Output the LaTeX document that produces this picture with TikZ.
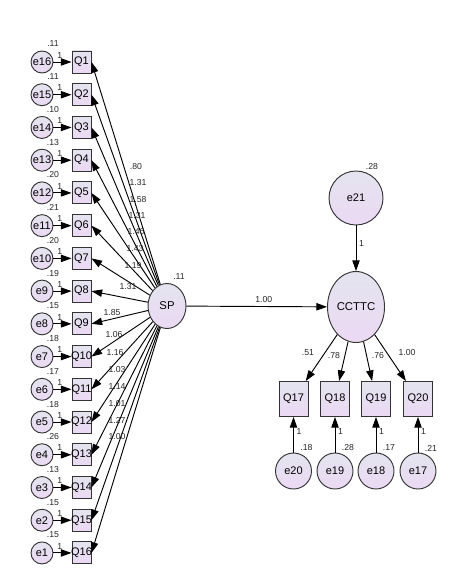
\documentclass[tikz,border=0pt]{standalone}
\usepackage{fontspec}
\setmainfont{Liberation Sans}
\usetikzlibrary{shapes.geometric,arrows.meta}
\definecolor{lavtop}{RGB}{228,228,239}
\definecolor{lavbot}{RGB}{235,217,243}
\tikzset{
  err/.style={circle,draw=black!80,top color=lavtop,bottom color=lavbot,inner sep=0pt,minimum size=16.5pt,font=\fontsize{8.25}{9}\selectfont},
  obs/.style={rectangle,draw=black!80,top color=lavtop,bottom color=lavbot,inner sep=0pt,minimum width=14.25pt,minimum height=16.5pt,font=\fontsize{8.25}{9}\selectfont},
  lat/.style={ellipse,draw=black!80,top color=lavtop,bottom color=lavbot,inner sep=0pt,font=\fontsize{8.5}{10}\selectfont},
  num/.style={inner sep=0pt,font=\fontsize{6.5}{7}\selectfont,text=black!85},
}
\begin{document}
\begin{tikzpicture}[x=0.75pt,y=-0.75pt,>={Triangle[length=8pt,width=5.5pt]},line width=0.7pt]
\useasboundingbox (0,0) rectangle (472,577);
% latent variables
\node[lat,minimum width=28.5pt,minimum height=33.75pt] (SP) at (167,306) {SP};
\node[num] (v22) at (179,277) {.11};
\node[lat,minimum width=42.75pt,minimum height=53.25pt] (CCTTC) at (356,307) {CCTTC};
\node[err,minimum size=40.5pt] (e21) at (356,198) {e21};
\node[num] (v21) at (372,167) {.28};
\draw[->] (e21) -- (CCTTC) node[num,pos=0.4,right=2pt] (w21) {1};
\draw[->] (SP) -- (CCTTC) node[num,pos=0.55,above=2.5pt] (b1) {1.00};
% left items Q1..Q16
\foreach \i/\v/\l/\lx/\ly in {1/.11/.80/136/167, 2/.11/1.31/138/183, 3/.10/1.58/138/200, 4/.13/1.31/137/216,
  5/.20/1.46/136/232, 6/.21/1.43/135/249, 7/.20/1.19/133/266, 8/.19/1.31/128/287,
  9/.15/1.85/112/313, 10/.18/1.06/114/335, 11/.17/1.16/115/353, 12/.18/1.03/117/370,
  13/.26/1.14/117/387, 14/.13/1.01/117/404, 15/.15/1.27/117/420, 16/.15/1.00/117/437}{
  \pgfmathsetmacro\y{62+(\i-1)*32.73}
  \pgfmathtruncatemacro\e{17-\i}
  \node[obs] (Q\i) at (81.5,\y) {\makebox[0pt]{Q\i}};
  \node[err] (e\e) at (42,\y) {e\e};
  \node[num] (v\e) at (53,\y-18) {\v};
  \draw[->] (e\e) -- (Q\i) node[num,pos=0.35,above=2.5pt] (w\e) {1};
  \draw[->] (SP) -- (Q\i.east);
  \node[num] (l\i) at (\lx,\ly) {\l};
}
% right items Q17..Q20
\foreach \j/\x/\e/\v/\l/\lx/\ly in {17/293.5/20/.18/.51/308/353, 18/335/19/.28/.78/334/356,
  19/376/18/.17/.76/378/356, 20/418/17/.21/1.00/407/353}{
  \node[obs,minimum width=21.75pt,minimum height=26.25pt] (Q\j) at (\x,399) {Q\j};
  \node[err,minimum size=27pt] (e\e) at (\x,471) {e\e};
  \node[num] (v\e) at (\x+13,448) {\v};
  \draw[->] (CCTTC) -- (Q\j);
  \draw[->] (e\e) -- (Q\j) node[num,pos=0.6,right=2pt] (w\e) {1};
  \node[num] (l\j) at (\lx,\ly) {\l};
}
\end{tikzpicture}
\end{document}
